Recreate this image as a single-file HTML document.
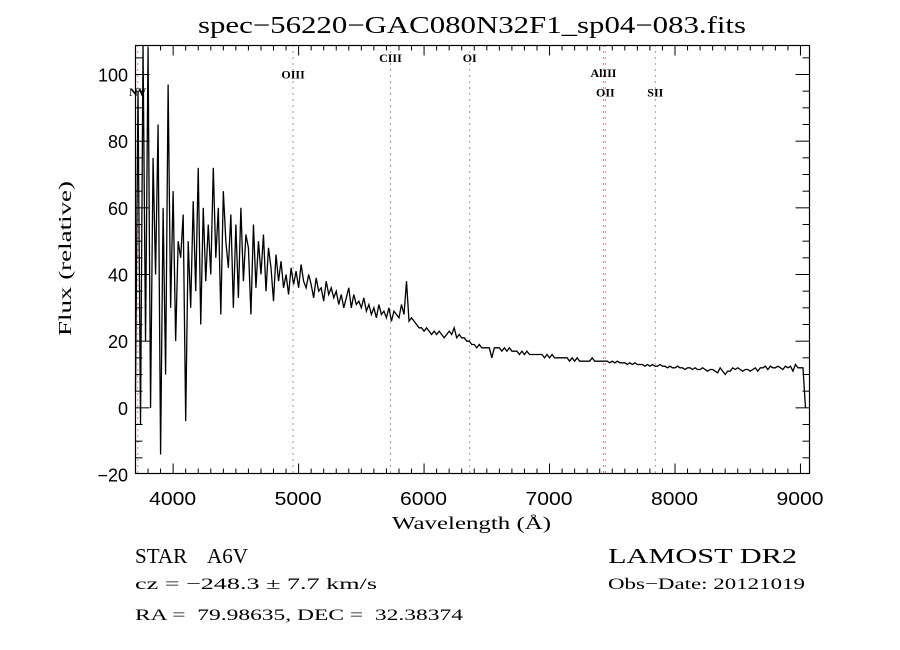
<!DOCTYPE html>
<html><head><meta charset="utf-8"><style>
body{margin:0;background:#fff}
svg{display:block}
text{font-family:"Liberation Serif",serif;fill:#000}
.tk{font-family:"Liberation Sans",sans-serif;font-size:18px;font-weight:300}
</style></head><body>
<svg id="chart" width="900" height="650" viewBox="0 0 900 650">
<rect width="900" height="650" fill="#fff"/>
<text x="198" y="33" font-size="24" textLength="548" lengthAdjust="spacingAndGlyphs">spec−56220−GAC080N32F1_sp04−083.fits</text>
<g id="lines"></g>
<g id="ticks"></g>
<path id="spec" fill="none" stroke="#000" stroke-width="1.3"/>
<rect x="135.5" y="45.5" width="674" height="428" fill="none" stroke="#000" stroke-width="1.2"/>
<text x="392" y="529" font-size="18" textLength="159" lengthAdjust="spacingAndGlyphs">Wavelength (Å)</text>
<text transform="translate(71,336) rotate(-90)" font-size="18" textLength="155" lengthAdjust="spacingAndGlyphs">Flux (relative)</text>
<text x="135" y="563" font-size="21" textLength="113" lengthAdjust="spacingAndGlyphs" xml:space="preserve">STAR    A6V</text>
<text x="135" y="589" font-size="16" textLength="242" lengthAdjust="spacingAndGlyphs">cz = −248.3 ± 7.7 km/s</text>
<text x="135" y="620" font-size="16" textLength="328" lengthAdjust="spacingAndGlyphs" xml:space="preserve">RA =  79.98635, DEC =  32.38374</text>
<text x="608" y="563" font-size="21" textLength="189" lengthAdjust="spacingAndGlyphs">LAMOST DR2</text>
<text x="608" y="589" font-size="16" textLength="197" lengthAdjust="spacingAndGlyphs">Obs−Date: 20121019</text>
</svg>
<script>
const waveStart = 3700, waveStep = 20;
const flux = [
5,95,-5,110,20,108,0,75,40,85,
-14,60,10,97,30,65,20,50,45,58,
-4,50,30,62,35,72,25,60,38,55,
40,72,45,60,28,65,50,42,58,30,
55,33,60,38,52,48,28,55,36,50,
40,52,35,48,42,32,46,38,44,36,
40,34,42,37,41,36,43,38,36,40,
37,33,39,35,36,32,38,34,36,33,
35,31,34,30,33,36,30,34,31,32,
30,33,29,31,28,30,27,31,28,29,
27,30,26,29,28,27,31,28,38,26,
27,26,25,24,24,23,24,23,22,23,
22,23,22,21,22,23,22,24,21,22,
21,21,20,20,19,19,18,19,18,18,
18,18,15,18,18,18,17,18,17,18,
17,17,17,16,17,16,17,16,16,16,
16,16,16,15,16,15,16,15,15,15,
15,15,15,14,15,14,15,14,14,14,
14,14,15,14,14,14,14,14,14,13.5,
14,13.5,14,13.5,13.5,13.5,13,13.5,13,13.5,
13,13,13,12.5,13,12.5,13,12.5,12.5,13,
12.5,12.5,12,12.5,12,12,12.5,12,12,11.5,
12,12,11.5,12,11.5,11.5,12,11.5,11,11.5,
11.5,11,10.5,12,11,10,11,11,12,11.5,
12,11.5,11,11.5,11.5,11,11.5,12,11,12,
12,12.5,11.5,12.5,12,12,12.5,12,11.5,12.5,
12,12.5,11,13,12,12,12,0];
const xTickValues = [4000,5000,6000,7000,8000,9000];
const xTickLabels = ["4000","5000","6000","7000","8000","9000"];
const yTickValues = [-20,0,20,40,60,80,100];
const yTickLabels = ["−20","0","20","40","60","80","100"];
const lineNames = ["NV","OIII","CIII","OI","AlIII","OII","SII"];
const lineWaves = [3718,4956,5732,6364,7430,7445,7843];
const lineLabelY = [93.6,98.8,103.8,103.8,99.2,93.4,93.4];

const X0=135.5,X1=809.5,Y0=473.5,Y1=45.5;
const xmin=3700,xmax=9072,ymin=-19.7,ymax=108.7;
const sx=v=>X0+(v-xmin)/(xmax-xmin)*(X1-X0);
const sy=v=>Y0-(v-ymin)/(ymax-ymin)*(Y0-Y1);
const NS="http://www.w3.org/2000/svg";
function mk(tag,attrs,parent){const e=document.createElementNS(NS,tag);for(const k in attrs)e.setAttribute(k,attrs[k]);parent.appendChild(e);return e;}

let d="";
flux.forEach((f,i)=>{const w=waveStart+i*waveStep;const y=Math.max(Y1,Math.min(Y0,sy(f)));d+=(i?"L":"M")+sx(w).toFixed(2)+" "+y.toFixed(2);});
document.getElementById("spec").setAttribute("d",d);

const lg=document.getElementById("lines");
lineWaves.forEach((w,i)=>{
  const l=mk("line",{x1:sx(w),x2:sx(w),y1:Y1,y2:Y0,stroke:"#8b2020","stroke-width":1,"stroke-dasharray":"1 5"},lg);
  
  
  const t=mk("text",{x:sx(w),y:sy(lineLabelY[i]),"text-anchor":"middle","font-size":"12","font-weight":"bold"},lg);
  t.textContent=lineNames[i];
  
  
});

const tg=document.getElementById("ticks");
for(let w=3700;w<=9070;w+=100){
  const major=w%1000===0, L=major?10:5;
  mk("line",{x1:sx(w),x2:sx(w),y1:Y0,y2:Y0-L,stroke:"#000"},tg);
  mk("line",{x1:sx(w),x2:sx(w),y1:Y1,y2:Y1+L,stroke:"#000"},tg);
}
xTickValues.forEach((v,i)=>{
  const t=mk("text",{x:sx(v)-24,y:505,class:"tk",textLength:"47",lengthAdjust:"spacingAndGlyphs"},tg);
  t.textContent=xTickLabels[i];
  
  
});
for(let v=-15;v<=105;v+=5){
  const major=v%20===0, L=major?14:7;
  mk("line",{x1:X0,x2:X0+L,y1:sy(v),y2:sy(v),stroke:"#000"},tg);
  mk("line",{x1:X1,x2:X1-L,y1:sy(v),y2:sy(v),stroke:"#000"},tg);
}
yTickValues.forEach((v,i)=>{
  const t=mk("text",{x:128,y:sy(v)+7,"text-anchor":"end",class:"tk"},tg);
  t.textContent=yTickLabels[i];
  
  
});
</script>
</body></html>
